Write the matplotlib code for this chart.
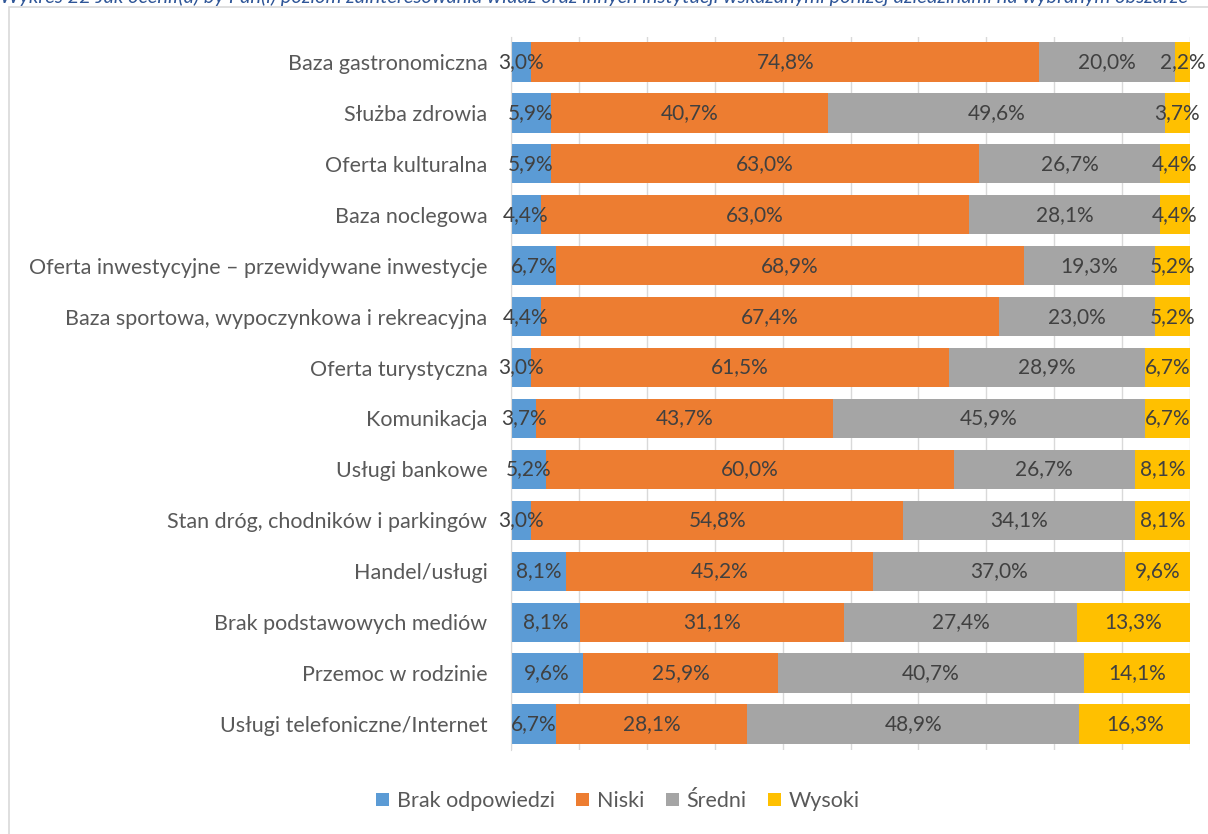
import numpy as np
import matplotlib.pyplot as plt
from matplotlib.patches import Rectangle

categories = [
    "Baza gastronomiczna",
    "Służba zdrowia",
    "Oferta kulturalna",
    "Baza noclegowa",
    "Oferta inwestycyjne – przewidywane inwestycje",
    "Baza sportowa, wypoczynkowa i rekreacyjna",
    "Oferta turystyczna",
    "Komunikacja",
    "Usługi bankowe",
    "Stan dróg, chodników i parkingów",
    "Handel/usługi",
    "Brak podstawowych mediów",
    "Przemoc w rodzinie",
    "Usługi telefoniczne/Internet",
]

brak = [3.0, 5.9, 5.9, 4.4, 6.7, 4.4, 3.0, 3.7, 5.2, 3.0, 8.1, 8.1, 9.6, 6.7]
niski = [74.8, 40.7, 63.0, 63.0, 68.9, 67.4, 61.5, 43.7, 60.0, 54.8, 45.2, 31.1, 25.9, 28.1]
sredni = [20.0, 49.6, 26.7, 28.1, 19.3, 23.0, 28.9, 45.9, 26.7, 34.1, 37.0, 27.4, 40.7, 48.9]
wysoki = [2.2, 3.7, 4.4, 4.4, 5.2, 5.2, 6.7, 6.7, 8.1, 8.1, 9.6, 13.3, 14.1, 16.3]

series_names = ["Brak odpowiedzi", "Niski", "Średni", "Wysoki"]
colors = ["#5B9BD5", "#ED7D31", "#A5A5A5", "#FFC000"]

title = ("Wykres 22 Jak ocenił(a) by Pan(i) poziom zainteresowania władz oraz innych "
         "instytucji wskazanymi poniżej dziedzinami na wybranym obszarze")

plt.rcParams['font.family'] = ['Lato', 'DejaVu Sans']

fig = plt.figure(figsize=(12.08, 8.34), dpi=100)

# chart frame (extends past right/bottom edge)
fig.patches.append(Rectangle((9 / 1208, -0.2), 1.5, 1.2 - 7 / 834,
                             transform=fig.transFigure, fill=False,
                             edgecolor="#D9D9D9", linewidth=1.2))
# caption above the chart, cut by the top edge as in the source
fig.text(0.0, 1 + 3 / 834, title, color="#2E5597", fontsize=14.5,
         style="italic", ha="left", va="center")

ax = fig.add_axes([511 / 1208, 1 - 749.5 / 834, 679 / 1208, (749.5 - 36.5) / 834])

data = np.array([brak, niski, sredni, wysoki])
totals = data.sum(axis=0)
shares = data / totals * 100  # 100% stacked bars

y = np.arange(len(categories))
left = np.zeros(len(categories))
for i, name in enumerate(series_names):
    ax.barh(y, shares[i], left=left, height=0.77, color=colors[i], label=name, zorder=2)
    for j in range(len(categories)):
        ax.text(left[j] + shares[i][j] / 2, y[j], f"{data[i][j]:.1f}%".replace(".", ","),
                ha="center", va="center", fontsize=15, color="#404040", zorder=3)
    left += shares[i]

ax.set_xlim(0, 100)
ax.set_ylim(len(categories) - 0.5, -0.5)
ax.set_yticks(y)
ax.set_yticklabels(categories, fontsize=15.5, color="#595959")
ax.tick_params(axis="y", length=0, pad=17)
ax.set_xticks(np.arange(0, 101, 10))
ax.set_xticklabels([])
ax.tick_params(axis="x", length=0)
ax.grid(axis="x", color="#D9D9D9", linewidth=1, zorder=0)
for side in ["top", "right", "bottom"]:
    ax.spines[side].set_visible(False)
ax.spines["left"].set_color("#D9D9D9")

fig.legend(loc="center", bbox_to_anchor=(618 / 1208, 1 - 801 / 834), ncol=4,
           frameon=False, fontsize=15.5, handlelength=0.6, handleheight=0.6,
           handletextpad=0.35, columnspacing=1.0, labelcolor="#595959")

fig.savefig("out.png", dpi=100)
